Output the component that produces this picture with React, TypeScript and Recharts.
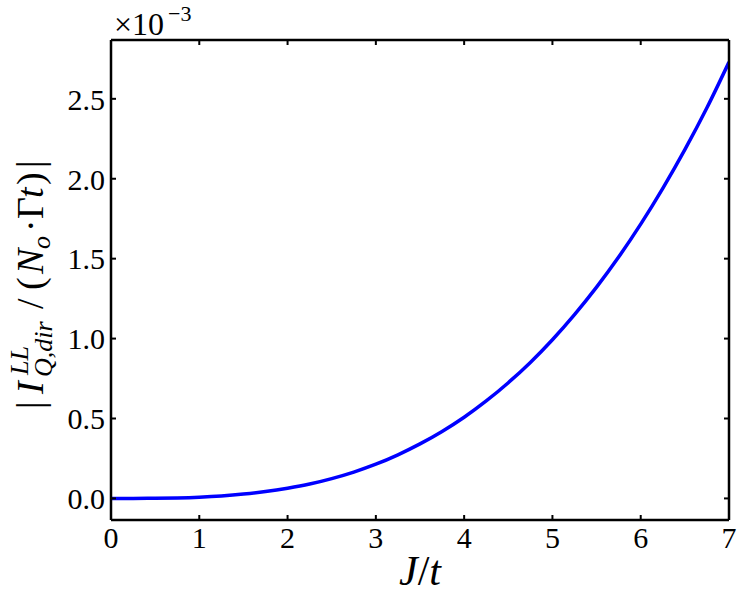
import { LineChart, Line, XAxis, YAxis } from "recharts";

// J/t grid and |I| values (in units of 1e-3)
const jOverT = [
  0, 0.25, 0.5, 0.75, 1, 1.25, 1.5, 1.75, 2, 2.25, 2.5, 2.75, 3, 3.25, 3.5,
  3.75, 4, 4.25, 4.5, 4.75, 5, 5.25, 5.5, 5.75, 6, 6.25, 6.5, 6.75, 7,
];
const current = [
  0, 0.0001, 0.001, 0.0034, 0.008, 0.0155, 0.027, 0.043, 0.064, 0.09, 0.124,
  0.165, 0.214, 0.273, 0.341, 0.419, 0.508, 0.61, 0.724, 0.851, 0.993, 1.15,
  1.322, 1.51, 1.716, 1.94, 2.182, 2.444, 2.73,
];
const xTicks = [0, 1, 2, 3, 4, 5, 6, 7];
const yTicks = [0, 0.5, 1.0, 1.5, 2.0, 2.5];

const data = jOverT.map((j, i) => ({ j, v: current[i] }));

const FONT = "'Liberation Serif', 'DejaVu Serif', serif";
const TICK = 5;
const Y_DOMAIN = [-0.135, 2.868];

const LeftTick = (p: any) => (
  <g>
    <line x1={p.x} x2={p.x + TICK} y1={p.y} y2={p.y} stroke="#000" strokeWidth={2} />
    <text x={p.x - 6} y={p.y} dy="0.36em" textAnchor="end" fontFamily={FONT} fontSize={30} fill="#000">
      {p.payload.value.toFixed(1)}
    </text>
  </g>
);
const RightTick = (p: any) => (
  <line x1={p.x} x2={p.x - TICK} y1={p.y} y2={p.y} stroke="#000" strokeWidth={2} />
);
const BottomTick = (p: any) => (
  <g>
    <line x1={p.x} x2={p.x} y1={p.y} y2={p.y - TICK} stroke="#000" strokeWidth={2} />
    <text x={p.x} y={p.y + 28} textAnchor="middle" fontFamily={FONT} fontSize={30} fill="#000">
      {p.payload.value}
    </text>
  </g>
);
const TopTick = (p: any) => (
  <line x1={p.x} x2={p.x} y1={p.y} y2={p.y + TICK} stroke="#000" strokeWidth={2} />
);

const axisLine = { stroke: "#000", strokeWidth: 2.5 };

export default function App() {
  return (
    <div style={{ position: "absolute", left: 0, top: 0, width: 747, height: 603, background: "#fff" }}>
      <LineChart
        width={747}
        height={603}
        data={data}
        margin={{ top: 39, right: 17, bottom: 43, left: 51 }}
      >
        <XAxis
          dataKey="j"
          type="number"
          domain={[0, 7]}
          ticks={xTicks}
          allowDataOverflow
          height={40}
          tickSize={0}
          tickMargin={0}
          tick={BottomTick}
          axisLine={axisLine}
          tickLine={false}
        />
        <XAxis
          xAxisId="top"
          orientation="top"
          dataKey="j"
          type="number"
          domain={[0, 7]}
          ticks={xTicks}
          allowDataOverflow
          height={1}
          tickSize={0}
          tickMargin={0}
          tick={TopTick}
          axisLine={axisLine}
          tickLine={false}
        />
        <YAxis
          type="number"
          domain={Y_DOMAIN}
          ticks={yTicks}
          allowDataOverflow
          width={60}
          tickSize={0}
          tickMargin={0}
          tick={LeftTick}
          axisLine={axisLine}
          tickLine={false}
        />
        <YAxis
          yAxisId="right"
          orientation="right"
          type="number"
          domain={Y_DOMAIN}
          ticks={yTicks}
          allowDataOverflow
          width={1}
          tickSize={0}
          tickMargin={0}
          tick={RightTick}
          axisLine={axisLine}
          tickLine={false}
        />
        {/* invisible twin so the top/right frame axes get a domain */}
        <Line
          xAxisId="top"
          yAxisId="right"
          dataKey="v"
          stroke="none"
          dot={false}
          activeDot={false}
          isAnimationActive={false}
        />
        <Line
          dataKey="v"
          type="monotone"
          stroke="#0000ff"
          strokeWidth={3.5}
          dot={false}
          isAnimationActive={false}
        />
      </LineChart>
      <svg
        width={747}
        height={603}
        style={{ position: "absolute", left: 0, top: 0, pointerEvents: "none" }}
        fontFamily={FONT}
        fill="#000"
      >
        <text x={114} y={35} fontSize={32}>×10</text>
        <text x={168} y={21} fontSize={22}>−3</text>
        <text x={420} y={585} fontSize={42} textAnchor="middle">
          <tspan fontStyle="italic">J</tspan>
          <tspan>/</tspan>
          <tspan fontStyle="italic">t</tspan>
        </text>
        <g transform="translate(43,280) rotate(-90)" fontSize={38}>
          <text x={-129} y={0}>|</text>
          <text x={-114} y={0} fontStyle="italic">I</text>
          <text x={-95} y={-15} fontSize={26} fontStyle="italic">LL</text>
          <text x={-97} y={9} fontSize={26} fontStyle="italic">Q,dir</text>
          <text x={-29} y={0}>/</text>
          <text x={-10} y={0}>(</text>
          <text x={6} y={0} fontStyle="italic">N</text>
          <text x={31} y={7} fontSize={26} fontStyle="italic">o</text>
          <text x={48} y={0}>·</text>
          <text x={61} y={0}>Γ</text>
          <text x={82} y={0} fontStyle="italic">t</text>
          <text x={95} y={0}>)</text>
          <text x={112} y={0}>|</text>
        </g>
      </svg>
    </div>
  );
}
